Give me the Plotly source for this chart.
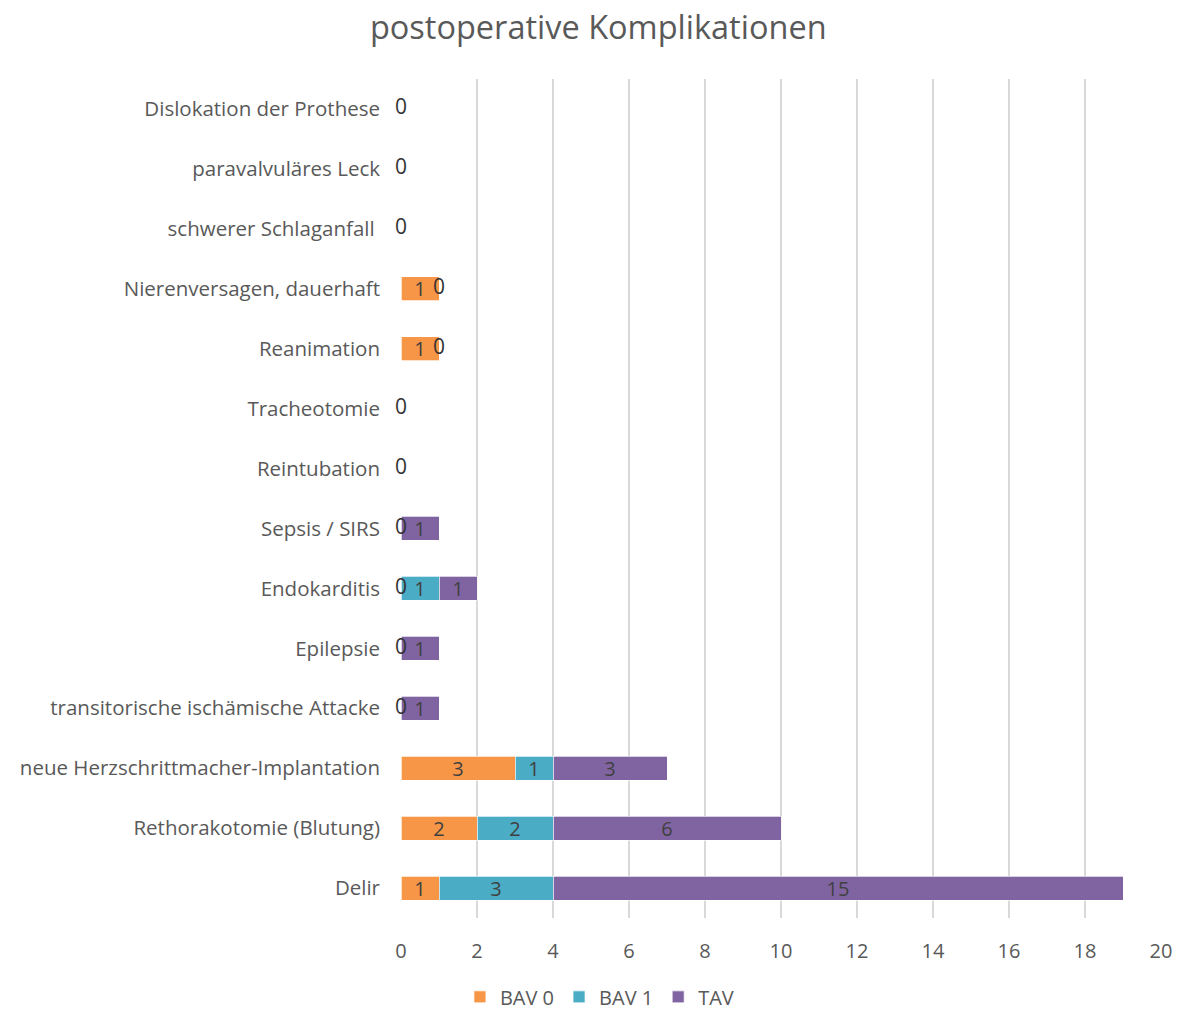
import plotly.graph_objects as go

categories = [
    "Dislokation der Prothese",
    "paravalvuläres Leck",
    "schwerer Schlaganfall\u00a0",
    "Nierenversagen, dauerhaft",
    "Reanimation",
    "Tracheotomie",
    "Reintubation",
    "Sepsis / SIRS",
    "Endokarditis",
    "Epilepsie",
    "transitorische ischämische Attacke",
    "neue Herzschrittmacher-Implantation",
    "Rethorakotomie (Blutung)",
    "Delir",
]
bav0 = [0, 0, 0, 1, 1, 0, 0, 0, 0, 0, 0, 3, 2, 1]
bav1 = [0, 0, 0, 0, 0, 0, 0, 0, 1, 0, 0, 1, 2, 3]
tav = [0, 0, 0, 0, 0, 0, 0, 1, 1, 1, 1, 3, 6, 15]

series = [("BAV 0", bav0, "#F79646"), ("BAV 1", bav1, "#4BACC6"), ("TAV", tav, "#8064A2")]

FONT = "Open Sans"
TXT = "#404040"
GREY = "#595959"

fig = go.Figure()
base = [0] * len(categories)
zeros = []
for name, vals, col in series:
    fig.add_trace(go.Bar(
        name=name, y=categories, x=vals, orientation="h", width=0.4,
        marker=dict(color=col, line=dict(color="white", width=0.7)),
        text=[str(v) if v else "" for v in vals],
        textposition="inside", insidetextanchor="middle", textangle=0,
        constraintext="none",
        textfont=dict(family=FONT, size=20, color=TXT),
    ))
    for i, v in enumerate(vals):
        if v == 0 and (base[i], categories[i]) not in zeros:
            zeros.append((base[i], categories[i]))
    base = [b + v for b, v in zip(base, vals)]

fig.add_trace(go.Scatter(
    x=[z[0] for z in zeros], y=[z[1] for z in zeros], mode="text",
    text=["0"] * len(zeros),
    textposition="middle center", showlegend=False, hoverinfo="skip",
    textfont=dict(family=FONT, size=21, color="#333333"), cliponaxis=False,
))

n = len(categories)
fig.update_layout(
    barmode="stack",
    width=1187, height=1010,
    margin=dict(l=401, r=26, t=79, b=92),
    paper_bgcolor="white", plot_bgcolor="white",
    title=dict(text="postoperative Komplikationen", x=0.504, xanchor="center",
               y=0.973, yanchor="middle",
               font=dict(family=FONT, size=32.5, color=GREY)),
    font=dict(family=FONT, color=GREY),
    legend=dict(orientation="h", xref="container", x=0.505, xanchor="center",
                yref="container", y=0.013, yanchor="middle",
                font=dict(family=FONT, size=20, color=GREY), traceorder="normal",
                itemwidth=30),
    xaxis=dict(range=[0, 20], dtick=2, showgrid=True, gridcolor="#D9D9D9", gridwidth=2,
               zeroline=False, showline=False, ticks="", automargin=False,
               tickfont=dict(family=FONT, size=20, color=GREY), ticklabelstandoff=19),
    yaxis=dict(range=[n - 0.5, -0.5], showgrid=False, zeroline=False, showline=False,
               ticks="", automargin=False, tickfont=dict(family=FONT, size=20.5, color=GREY),
               ticklabelstandoff=20),
    bargap=0.6,
)

fig.write_html("out.html")
